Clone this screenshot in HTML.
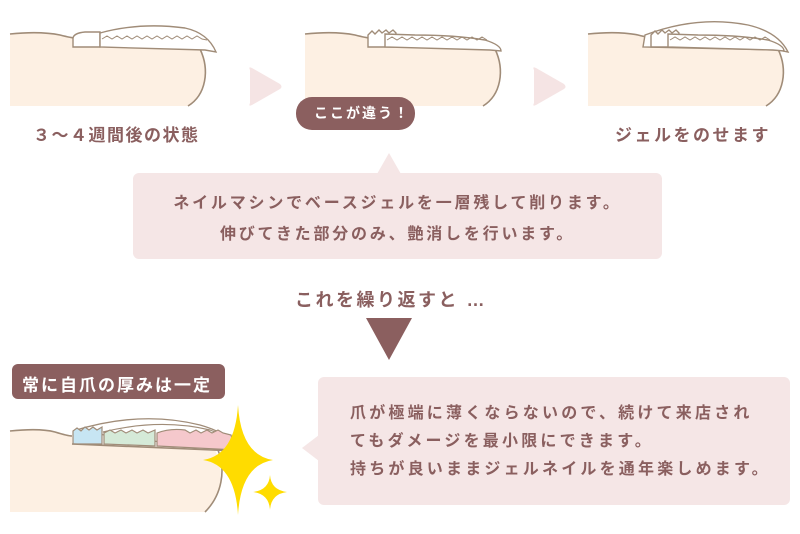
<!DOCTYPE html>
<html><head><meta charset="utf-8"><style>
html,body{margin:0;padding:0;background:#fff;}
body{width:800px;height:534px;position:relative;overflow:hidden;font-family:"Liberation Sans","Noto Sans CJK JP",sans-serif;color:#8a5f5f;}
.t{position:absolute;white-space:nowrap;font-weight:bold;}
</style></head><body>
<svg width="800" height="534" style="position:absolute;left:0;top:0">
<defs>
<g id="f">
 <path d="M0,34 Q30,31 50,35 Q62,38 65,38 L65,47 L190,49 C200,70 196,95 178,106 L0,106 Z" fill="#fdf0e3"/>
 <path d="M0,34 Q30,31 50,35 Q62,38 65,38" fill="none" stroke="#a08c78" stroke-width="1.6"/>
 <path d="M190,49 C200,70 196,95 178,106" fill="none" stroke="#a08c78" stroke-width="1.6"/>
</g>
</defs>
<g transform="translate(10,0)"><use href="#f"/>
 <path d="M63,47 L63,38 Q64,33 75,32 L90,32 L90,47 Z" fill="#fff" stroke="#a08c78" stroke-width="1.4"/>
 <path d="M90,47 L90,33 Q130,22 175,28 Q198,33 206,52 L195,50 L90,47 Z" fill="#fff" stroke="#a08c78" stroke-width="1.4"/>
 <path d="M92,39 l5,-3 5,3 5,-3 5,3 5,-3 5,3 5,-3 5,3 5,-3 5,3 5,-3 5,3 5,-3 5,3 5,-3 5,3 5,-3 5,3 5,-3 5,3 5,1" fill="none" stroke="#a08c78" stroke-width="1"/>
</g>
<g transform="translate(305,0)"><use href="#f"/>
 <path d="M63,47 L63,35 l4,-4 3,3 4,-4 3,3 4,-3 3,3 4,-3 3,3 L89,47 Z" fill="#fff" stroke="#a08c78" stroke-width="1.4"/>
 <path d="M80,47 L80,34 L110,35 Q150,35 180,40 Q196,45 196,51 L185,50 Z" fill="#fff" stroke="#a08c78" stroke-width="1.4"/>
 <path d="M82,40 l5,-3 5,3 5,-3 5,3 5,-3 5,3 5,-3 5,3 5,-3 5,3 5,-3 5,3 5,-3 5,3 5,-3 5,3 5,-3 5,3 5,-3 5,3" fill="none" stroke="#a08c78" stroke-width="1"/>
</g>
<g transform="translate(588,0)"><use href="#f"/>
 <path d="M55,47 L57,35 Q110,15 160,25 Q190,32 200,52 L190,50 Z" fill="#fff" stroke="#a08c78" stroke-width="1.4"/>
 <path d="M63,47 L63,35 l4,-4 3,3 4,-4 3,3 4,-3 3,3 4,-3 3,3 L89,47 Z" fill="#fff" stroke="#a08c78" stroke-width="1.4"/>
 <path d="M80,47 L80,34 L110,35 Q150,35 180,40 Q196,45 196,51 L185,50 Z" fill="#fff" stroke="#a08c78" stroke-width="1.4"/>
 <path d="M82,40 l5,-3 5,3 5,-3 5,3 5,-3 5,3 5,-3 5,3 5,-3 5,3 5,-3 5,3 5,-3 5,3 5,-3 5,3 5,-3 5,3 5,-3 5,3" fill="none" stroke="#a08c78" stroke-width="1"/>
</g>
<path d="M250,70 Q248,66 252,68 L280,84 Q283,87 280,89 L252,105 Q248,107 250,103 Z" fill="#f5e4e4"/>
<path d="M534,70 Q532,66 536,68 L564,84 Q567,87 564,89 L536,105 Q532,107 534,103 Z" fill="#f5e4e4"/>
<rect x="296" y="97" width="119" height="33" rx="16" fill="#8b5f5f"/>
<rect x="133" y="173" width="529" height="86" rx="6" fill="#f5e6e6"/>
<path d="M377,174 L389,153 L401,174 Z" fill="#f5e6e6"/>
<path d="M366,318 L412,318 L389,360 Z" fill="#8b5f5f"/>
<rect x="12" y="364" width="213" height="35" rx="6" fill="#8b5f5f"/>
<path d="M10,431 Q40,428 55,432 Q68,436 72,436 L72,444 L215,450 C225,470 222,495 205,512 L10,512 Z" fill="#fdf0e3"/>
<path d="M10,431 Q40,428 55,432 Q68,436 72,436" fill="none" stroke="#a08c78" stroke-width="1.6"/>
<path d="M218,450 C226,470 222,495 205,512" fill="none" stroke="#a08c78" stroke-width="1.6"/>
<path d="M73,431 Q140,410 200,425 Q225,432 235,445 L225,450 Z" fill="#fff" stroke="#a08c78" stroke-width="1.3"/>
<path d="M103,432 Q160,418 210,430 Q228,437 235,445" fill="none" stroke="#a08c78" stroke-width="1.2"/>
<path d="M73,444 L73,431 l4,-3 4,3 4,-4 4,3 4,-3 4,3 5,-3 V444 Z" fill="#c7e5f3" stroke="#a08c78" stroke-width="1.2"/>
<path d="M104,444 V433 l6,-3 5,3 6,-3 5,3 6,-3 5,3 6,-3 5,3 7,-3 V446 Z" fill="#d5ead8" stroke="#a08c78" stroke-width="1.2"/>
<path d="M157,446 V433 Q170,428 185,430 l5,3 6,-3 5,3 6,-3 5,3 6,-3 5,3 8,2 L236,450 Z" fill="#f5c8cc" stroke="#a08c78" stroke-width="1.2"/>
<line x1="72" y1="444" x2="236" y2="451" stroke="#a08c78" stroke-width="1.6"/>
<path d="M238,405 Q241,455 273,460 Q241,465 238,515 Q235,465 203,460 Q235,455 238,405 Z" fill="#ffdc00"/>
<path d="M270,475 Q271,490 287,492 Q271,494 270,510 Q269,494 253,492 Q269,490 270,475 Z" fill="#ffdc00"/>
<rect x="318" y="377" width="472" height="128" rx="6" fill="#f5e6e6"/>
<path d="M319,435 L302,448 L319,461 Z" fill="#f5e6e6"/>
</svg>
<div class="t" style="left:33px;top:121px;font-size:17px;letter-spacing:1.5px;">３～４週間後の状態</div>
<div class="t" style="left:615px;top:121px;font-size:17px;letter-spacing:2.5px;">ジェルをのせます</div>
<div class="t" style="left:314px;top:103px;font-size:14px;letter-spacing:2px;color:#fff;">ここが違う！</div>
<div class="t" style="left:133px;width:529px;top:188px;font-size:16px;letter-spacing:2.8px;line-height:31px;text-align:center;">ネイルマシンでベースジェルを一層残して削ります。<br>伸びてきた部分のみ、艶消しを行います。</div>
<div class="t" style="left:295px;width:190px;top:286px;font-size:18px;letter-spacing:2.5px;text-align:center;">これを繰り返すと …</div>
<div class="t" style="left:22px;top:371px;font-size:17px;letter-spacing:2px;color:#fff;">常に自爪の厚みは一定</div>
<div class="t" style="left:350px;top:400px;font-size:16px;letter-spacing:3.2px;line-height:28px;">爪が極端に薄くならないので、続けて来店され<br>てもダメージを最小限にできます。<br>持ちが良いままジェルネイルを通年楽しめます。</div>
</body></html>
